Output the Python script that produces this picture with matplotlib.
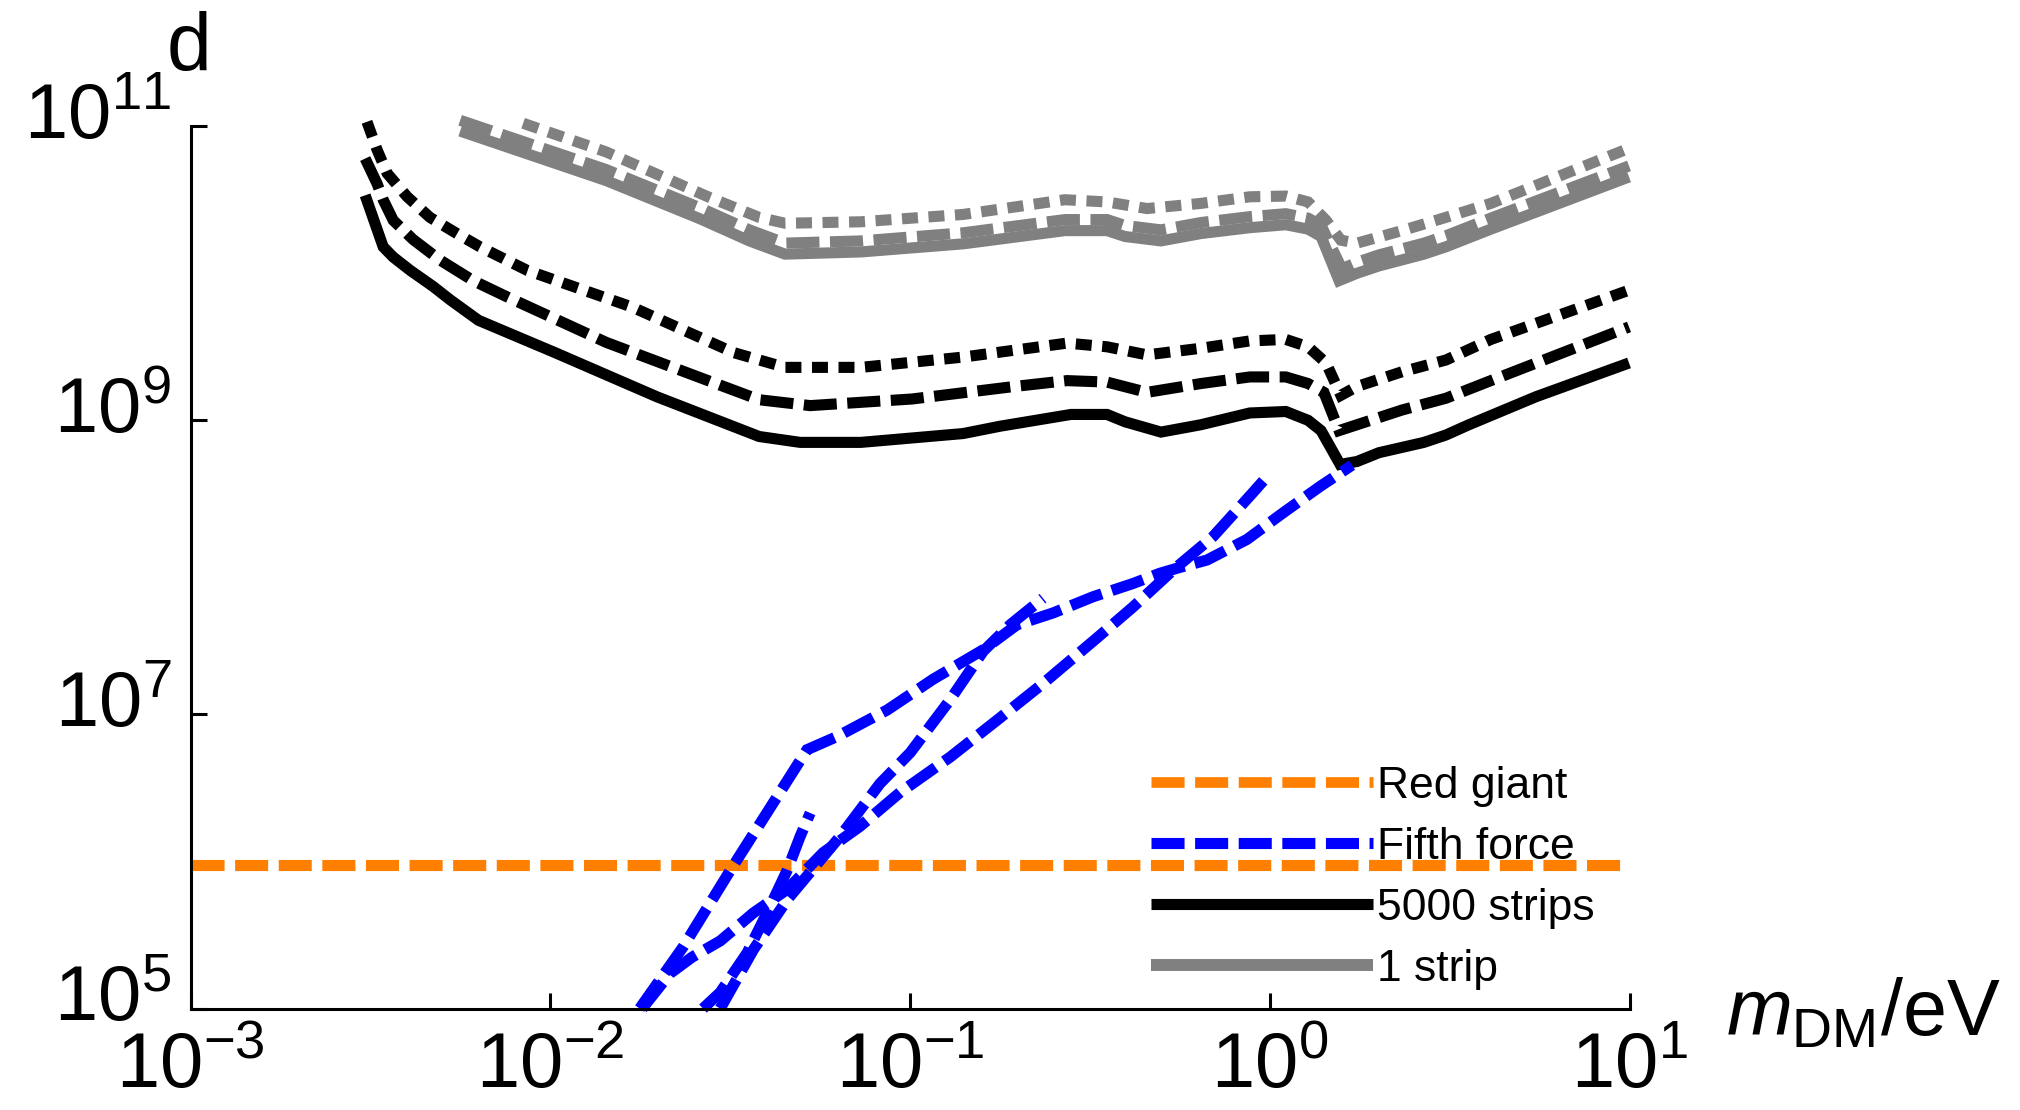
import numpy as np
import matplotlib
matplotlib.use("Agg")
import matplotlib.pyplot as plt
from matplotlib.lines import Line2D
from matplotlib.transforms import ScaledTranslation

plt.rcParams['font.family'] = ['Liberation Sans', 'DejaVu Sans']
plt.rcParams['mathtext.fontset'] = 'custom'
plt.rcParams['mathtext.rm'] = 'Liberation Sans'
plt.rcParams['mathtext.it'] = 'Liberation Sans:italic'
plt.rcParams['mathtext.bf'] = 'Liberation Sans:bold'
plt.rcParams['lines.scale_dashes'] = False

# ---- data: log10(m_DM / eV) and log10(d) ----
# 5000 strips
lx_5000_solid = [-2.515, -2.465, -2.437, -2.390, -2.326, -2.279, -2.200, -1.987, -1.704, -1.420,
                 -1.306, -1.137, -0.853, -0.750, -0.553, -0.453, -0.403, -0.303, -0.192, -0.056,
                 0.044, 0.106, 0.142, 0.195, 0.242, 0.303, 0.428, 0.489, 0.553, 0.739, 0.998]
ly_5000_solid = [10.53, 10.18, 10.11, 10.02, 9.91, 9.82, 9.68, 9.46, 9.16, 8.89,
                 8.85, 8.85, 8.91, 8.96, 9.04, 9.04, 8.99, 8.92, 8.97, 9.05,
                 9.06, 9.00, 8.93, 8.70, 8.72, 8.78, 8.85, 8.90, 8.97, 9.16, 9.39]

lx_5000_dashed = [-2.515, -2.482, -2.465, -2.437, -2.382, -2.307, -2.215, -2.121, -1.845, -1.562,
                  -1.420, -1.278, -0.995, -0.711, -0.564, -0.453, -0.342, -0.192, -0.056, 0.044,
                  0.106, 0.150, 0.192, 0.242, 0.367, 0.489, 0.614, 0.998]
ly_5000_dashed = [10.78, 10.61, 10.50, 10.36, 10.23, 10.09, 9.95, 9.84, 9.53, 9.27,
                  9.14, 9.10, 9.145, 9.23, 9.27, 9.26, 9.19, 9.25, 9.295, 9.295,
                  9.25, 9.19, 8.93, 8.97, 9.07, 9.15, 9.27, 9.635]

lx_5000_dotted = [-2.510, -2.482, -2.454, -2.398, -2.335, -2.260, -2.196, -2.065, -1.773, -1.490,
                  -1.348, -1.137, -0.853, -0.564, -0.453, -0.342, -0.192, -0.056, 0.044, 0.106,
                  0.156, 0.197, 0.242, 0.367, 0.489, 0.614, 0.998]
ly_5000_dotted = [11.03, 10.84, 10.68, 10.52, 10.38, 10.27, 10.18, 10.02, 9.77, 9.46,
                  9.36, 9.36, 9.43, 9.525, 9.50, 9.445, 9.49, 9.54, 9.55, 9.50,
                  9.39, 9.17, 9.23, 9.33, 9.41, 9.55, 9.885]

# 1 strip
lx_1_solid = [-2.251, -1.845, -1.584, -1.447, -1.348, -1.137, -0.853, -0.570, -0.453, -0.403,
              -0.303, -0.192, -0.056, 0.044, 0.106, 0.142, 0.192, 0.242, 0.303, 0.428,
              0.489, 0.614, 0.998]
ly_1_solid = [10.967, 10.63, 10.37, 10.22, 10.13, 10.145, 10.20, 10.29, 10.29, 10.25,
              10.22, 10.27, 10.31, 10.33, 10.30, 10.25, 9.95, 10.00, 10.05, 10.13,
              10.18, 10.30, 10.655]

lx_1_dashed = [-2.251, -1.845, -1.584, -1.447, -1.348, -1.137, -0.853, -0.570, -0.453, -0.403,
               -0.303, -0.192, -0.056, 0.044, 0.106, 0.142, 0.200, 0.242, 0.303, 0.428,
               0.489, 0.614, 0.998]
ly_1_dashed = [11.04, 10.705, 10.445, 10.295, 10.205, 10.22, 10.275, 10.365, 10.365, 10.325,
               10.295, 10.345, 10.385, 10.405, 10.375, 10.325, 10.03, 10.075, 10.125, 10.205,
               10.255, 10.375, 10.73]

lx_1_dotted = [-2.076, -1.845, -1.562, -1.420, -1.348, -1.137, -0.853, -0.570, -0.453, -0.342,
               -0.192, -0.056, 0.044, 0.106, 0.156, 0.197, 0.242, 0.367, 0.489, 0.614, 0.998]
ly_1_dotted = [11.02, 10.825, 10.52, 10.38, 10.34, 10.35, 10.40, 10.50, 10.485, 10.44,
               10.475, 10.52, 10.525, 10.485, 10.36, 10.225, 10.205, 10.29, 10.38, 10.475, 10.85]

# Red giant bound
red_giant_d = 9.5e5

# Fifth force bounds
lx_ff_a = [-1.752, -1.631, -1.500, -1.370, -1.287, -1.203, -1.064, -0.936, -0.797, -0.703,
           -0.603, -0.492, -0.381, -0.306, -0.250, -0.175, -0.064, 0.036, 0.139, 0.228]
ly_ff_a = [5.0, 5.42, 5.94, 6.44, 6.76, 6.85, 7.03, 7.24, 7.44, 7.61,
           7.69, 7.80, 7.89, 7.96, 8.00, 8.05, 8.19, 8.37, 8.55, 8.695]

lx_ff_b = [-1.528, -1.436, -1.342, -1.195, -1.084, -1.000, -0.889, -0.797, -0.722, -0.631]
ly_ff_b = [5.0, 5.40, 5.74, 6.17, 6.53, 6.74, 7.10, 7.43, 7.61, 7.79]

lx_ff_c = [-1.576, -1.528, -1.453, -1.398, -1.342, -1.306, -1.278]
ly_ff_c = [5.0, 5.11, 5.38, 5.65, 5.94, 6.17, 6.33]

lx_ff_d = [-1.745, -1.667, -1.606, -1.528, -1.436, -1.342, -1.242, -1.139, -1.028, -0.889,
           -0.759, -0.631, -0.481, -0.381, -0.270, -0.158, -0.047, 0.000]
ly_ff_d = [5.0, 5.24, 5.35, 5.46, 5.65, 5.81, 6.06, 6.24, 6.47, 6.71,
           6.96, 7.21, 7.52, 7.73, 7.98, 8.21, 8.51, 8.64]

x_ticks = [1e-3, 1e-2, 1e-1, 1e0, 1e1]
x_ticklabels = [r'$10^{-3}$', r'$10^{-2}$', r'$10^{-1}$', r'$10^{0}$', r'$10^{1}$']
y_ticks = [1e5, 1e7, 1e9, 1e11]
y_ticklabels = [r'$10^{5}$', r'$10^{7}$', r'$10^{9}$', r'$10^{11}$']

legend_labels = ['Red giant', 'Fifth force', '5000 strips', '1 strip']

# ---- styles ----
ORANGE = '#FF8000'
BLUE = '#0000FF'
GRAY = '#808080'
BLACK = '#000000'
LW = 8.0
DASH = (23.8, 7.6)
DOT = (11.5, 7.6)


def pw(v):
    return 10.0 ** np.asarray(v)


fig = plt.figure(figsize=(20.2, 11.1), dpi=100)
ax = fig.add_axes([0.0944, 0.0914, 0.7124, 0.7949])
ax.set_xscale('log')
ax.set_yscale('log')

common = dict(lw=LW, clip_on=False, solid_joinstyle='miter', solid_capstyle='butt',
              dash_capstyle='butt', dash_joinstyle='miter')

# 1 strip curves
ax.plot(pw(lx_1_solid), pw(ly_1_solid), color=GRAY, **common)
ax.plot(pw(lx_1_dashed), pw(ly_1_dashed), color=GRAY, dashes=DASH, **common)
ax.plot(pw(lx_1_dotted), pw(ly_1_dotted), color=GRAY, dashes=DOT, **common)

# 5000 strips curves
ax.plot(pw(lx_5000_solid), pw(ly_5000_solid), color=BLACK, **common)
ax.plot(pw(lx_5000_dashed), pw(ly_5000_dashed), color=BLACK, dashes=DASH, **common)
ax.plot(pw(lx_5000_dotted), pw(ly_5000_dotted), color=BLACK, dashes=DOT, **common)

# red giant
ax.plot([1e-3, 1e1], [red_giant_d, red_giant_d], color=ORANGE, dashes=DASH, **common)

# fifth force
for lx, ly in [(lx_ff_a, ly_ff_a), (lx_ff_b, ly_ff_b), (lx_ff_c, ly_ff_c), (lx_ff_d, ly_ff_d)]:
    ax.plot(pw(lx), pw(ly), color=BLUE, dashes=DASH, **common)

ax.set_xlim(1e-3, 1e1)
ax.set_ylim(1e5, 1e11)

ax.xaxis.set_minor_locator(matplotlib.ticker.NullLocator())
ax.yaxis.set_minor_locator(matplotlib.ticker.NullLocator())
ax.set_xticks(x_ticks)
ax.set_xticklabels(x_ticklabels)
ax.set_yticks(y_ticks)
ax.set_yticklabels(y_ticklabels)

for side in ['top', 'right']:
    ax.spines[side].set_visible(False)
for side in ['left', 'bottom']:
    ax.spines[side].set_linewidth(2.2)

ax.tick_params(axis='both', which='major', direction='in', length=11.5, width=2.2,
               labelsize=56, top=False, right=False)
ax.tick_params(axis='x', pad=16)
ax.tick_params(axis='y', pad=14)

# raise the y tick labels so the base "10" sits centred on its tick
lift = ScaledTranslation(0, 0.16, fig.dpi_scale_trans)
for lab in ax.get_yticklabels():
    lab.set_transform(lab.get_transform() + lift)

# legend
handles = [
    Line2D([], [], color=ORANGE, lw=7.7, dashes=DASH, dash_capstyle='butt'),
    Line2D([], [], color=BLUE, lw=8.0, dashes=DASH, dash_capstyle='butt'),
    Line2D([], [], color=BLACK, lw=8.0, solid_capstyle='butt'),
    Line2D([], [], color=GRAY, lw=8.6, solid_capstyle='butt'),
]
ax.legend(handles, legend_labels, loc='lower left', bbox_to_anchor=(0.5698, 0.1083),
          bbox_transform=fig.transFigure, frameon=False, fontsize=32,
          handlelength=5.0, handletextpad=0.08, labelspacing=0.45,
          borderpad=0.0, borderaxespad=0.0)

fig.text(0.0936, 0.937, 'd', fontsize=58, ha='center', va='baseline')
fig.text(0.8545, 0.0676, r'$m_{\mathrm{DM}}$/eV', fontsize=57, ha='left', va='baseline')

fig.savefig('out.png', dpi=100)
